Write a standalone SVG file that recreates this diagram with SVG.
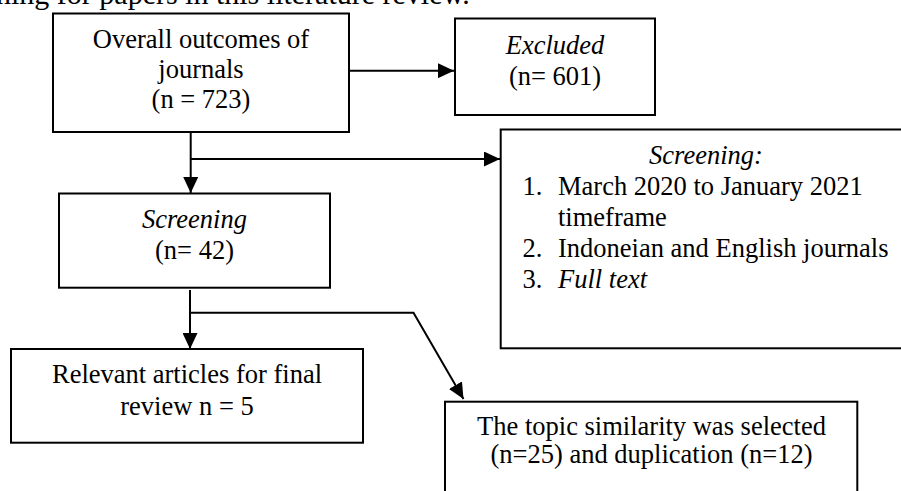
<svg xmlns="http://www.w3.org/2000/svg" width="901" height="491" viewBox="0 0 901 491">
<defs>
<style>
text{font-family:"Liberation Serif","Times New Roman",serif;font-size:26.5px;fill:#000}
.c{text-anchor:middle}
.i{font-style:italic}
.box{fill:#fff;stroke:#000;stroke-width:2}
.ln{fill:none;stroke:#000;stroke-width:2}
</style>
<marker id="ah" viewBox="0 0 16 15" refX="16" refY="7.5" markerWidth="16" markerHeight="15" markerUnits="userSpaceOnUse" orient="auto">
<path d="M0,0 L16,7.5 L0,15 Z" fill="#000"/>
</marker>
</defs>
<rect width="901" height="491" fill="#fff"/>
<text x="-4" y="4" style="font-size:30px">ning for papers in this literature review.</text>
<g id="connectors">
<line class="ln" x1="349" y1="70.7" x2="454" y2="70.7" marker-end="url(#ah)"/>
<line class="ln" x1="190.7" y1="132" x2="190.7" y2="193" marker-end="url(#ah)"/>
<line class="ln" x1="190.7" y1="159" x2="500" y2="159" marker-end="url(#ah)"/>
<line class="ln" x1="190" y1="290" x2="190" y2="349" marker-end="url(#ah)"/>
<polyline class="ln" points="190,312.7 413.5,312.7 463.5,399" marker-end="url(#ah)"/>
</g>
<g id="overall">
<rect class="box" x="53" y="13.5" width="296" height="118.5"/>
<text class="c" x="201" y="48">Overall outcomes of</text>
<text class="c" x="201" y="78">journals</text>
<text class="c" x="201" y="108">(n = 723)</text>
</g>
<g id="excluded">
<rect class="box" x="455" y="18.5" width="200" height="96.5"/>
<text class="c i" x="555" y="54">Excluded</text>
<text class="c" x="555" y="85">(n= 601)</text>
</g>
<g id="screening-criteria">
<rect class="box" x="500.7" y="129.5" width="420" height="218.8"/>
<text class="c i" x="706" y="163.5">Screening:</text>
<text x="522.5" y="194.5">1.</text>
<text x="558" y="194.5">March 2020 to January 2021</text>
<text x="558" y="225.5">timeframe</text>
<text x="522.5" y="256.5">2.</text>
<text x="558" y="256.5">Indoneian and English journals</text>
<text x="522.5" y="287.5">3.</text>
<text class="i" x="558" y="287.5">Full text</text>
</g>
<g id="screening">
<rect class="box" x="59" y="193.5" width="271" height="94.2"/>
<text class="c i" x="194.5" y="228.3">Screening</text>
<text class="c" x="194.5" y="258.5">(n= 42)</text>
</g>
<g id="relevant">
<rect class="box" x="11" y="349" width="352" height="93.7"/>
<text class="c" x="187" y="383.3">Relevant articles for final</text>
<text class="c" x="187" y="415">review n = 5</text>
</g>
<g id="topic">
<rect class="box" x="445" y="401.7" width="412.3" height="120"/>
<text class="c" x="651.5" y="435">The topic similarity was selected</text>
<text class="c" x="651.5" y="463.3">(n=25) and duplication (n=12)</text>
</g>
</svg>
